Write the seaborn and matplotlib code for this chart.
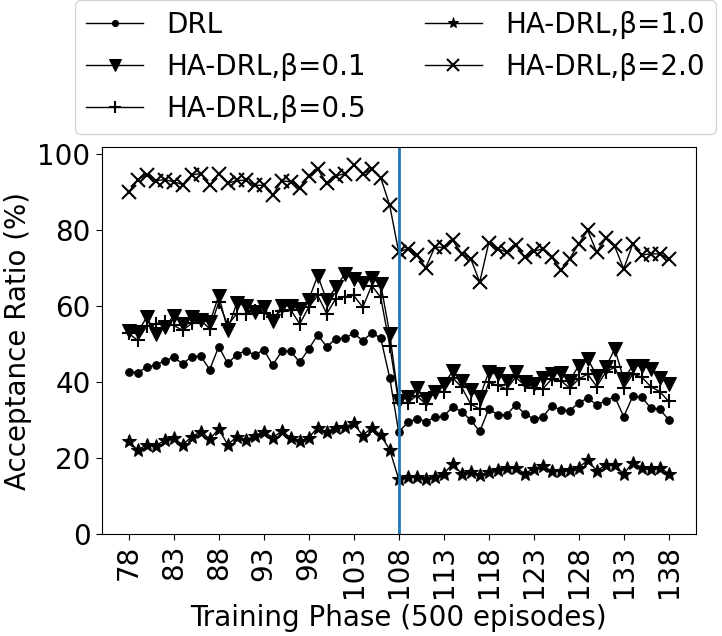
import matplotlib
matplotlib.use("Agg")
import matplotlib.pyplot as plt
import seaborn as sns
import numpy as np

phases = list(range(78, 139))

drl = [42.7, 42.5, 43.9, 44.5, 45.6, 46.5, 44.8, 46.7, 46.8, 43.3, 49.3, 44.9, 47.2, 48.3, 47.1,
       48.5, 44.5, 48.1, 48.1, 45.2, 48.7, 52.4, 49.3, 51.4, 51.6, 52.8, 50.9, 52.9, 51.6, 41.1,
       26.8, 29.4, 30.3, 29.6, 30.7, 31.0, 33.5, 32.2, 30.0, 27.0, 32.9, 31.4, 31.4, 34.0, 31.6,
       30.3, 30.7, 33.8, 32.6, 32.5, 34.5, 35.8, 34.0, 35.1, 36.1, 30.9, 36.2, 36.0, 33.2, 32.8, 30.1]

beta01 = [53.4, 53.1, 57.1, 52.7, 54.5, 57.4, 55.2, 57.1, 56.3, 55.7, 62.7, 53.7, 60.8, 60.1, 58.4,
          59.7, 56.0, 60.1, 60.1, 59.2, 61.7, 68.0, 61.5, 64.9, 68.4, 67.0, 66.0, 67.5, 65.8, 52.7,
          35.0, 36.0, 38.4, 35.5, 37.5, 39.5, 42.8, 40.4, 37.9, 36.0, 42.6, 42.0, 40.4, 42.6, 39.9,
          39.5, 41.1, 42.1, 42.4, 40.4, 44.3, 46.1, 41.7, 43.9, 48.7, 40.8, 44.3, 44.2, 43.5, 41.1, 39.5]

beta05 = [52.8, 51.0, 54.7, 55.3, 55.8, 54.9, 53.6, 55.5, 56.3, 54.0, 61.0, 55.0, 58.0, 58.0, 58.8,
          58.2, 57.1, 58.8, 59.0, 55.3, 59.7, 62.8, 58.0, 61.9, 62.5, 62.8, 59.7, 65.4, 62.3, 49.6,
          34.6, 34.6, 36.4, 34.2, 37.5, 37.5, 41.1, 38.6, 34.2, 32.9, 39.9, 39.1, 38.2, 41.3, 39.1,
          38.4, 38.2, 40.8, 40.4, 38.4, 40.8, 42.1, 38.8, 42.6, 43.9, 38.4, 42.1, 41.3, 38.8, 37.5, 34.9]

beta10 = [24.4, 22.1, 23.5, 23.2, 24.7, 25.2, 23.5, 25.6, 26.9, 25.0, 27.6, 23.5, 25.6, 24.7, 25.9,
          26.9, 25.4, 27.0, 25.4, 24.4, 25.4, 28.0, 26.9, 28.0, 28.2, 29.1, 25.9, 28.0, 26.0, 22.2,
          14.4, 14.9, 15.0, 14.6, 15.1, 15.9, 18.4, 15.9, 16.4, 15.4, 16.4, 16.9, 17.5, 17.5, 15.9,
          17.2, 17.9, 16.6, 16.6, 16.8, 17.5, 19.4, 16.6, 18.2, 18.2, 15.8, 18.8, 17.5, 17.2, 17.5, 15.9]

beta20 = [90.0, 93.3, 94.6, 93.0, 93.3, 92.7, 92.0, 94.5, 94.9, 91.8, 94.9, 92.3, 93.1, 93.1, 91.8,
          91.8, 89.2, 93.0, 92.7, 91.2, 94.2, 96.0, 92.4, 94.2, 94.9, 97.1, 94.9, 96.0, 93.8, 86.5,
          74.2, 75.1, 73.4, 70.1, 75.5, 75.5, 77.3, 73.8, 72.5, 66.3, 76.6, 75.1, 74.2, 76.0, 72.9,
          74.4, 75.1, 72.9, 69.4, 72.5, 76.4, 79.9, 74.2, 77.8, 75.7, 69.8, 76.3, 73.4, 73.8, 73.7, 72.5]

labels = ["DRL", "HA-DRL,β=0.1", "HA-DRL,β=0.5", "HA-DRL,β=1.0", "HA-DRL,β=2.0"]
series = [drl, beta01, beta05, beta10, beta20]
markers = [".", "v", "+", "*", "x"]
msizes = [11, 10, 10, 10, 10]
mews = [0.75, 0.75, 1.5, 0.75, 1.5]

xticks = list(range(78, 139, 5))
switch_phase = 108

plt.rcParams['font.family'] = ['DejaVu Sans']
plt.rcParams['font.size'] = 20

fig = plt.figure(figsize=(7.22, 6.36), dpi=100)
ax = fig.add_axes([0.1409, 0.1604, 0.8227, 0.608])

for vals, lab, mk, ms, mw in zip(series, labels, markers, msizes, mews):
    sns.lineplot(x=phases, y=vals, ax=ax, color="black", marker=mk, markersize=ms,
                 markeredgecolor="black", markerfacecolor="black", markeredgewidth=mw,
                 linewidth=1, label=lab)

ax.axvline(switch_phase, color="#1f77b4", linewidth=2)

ax.set_xlim(75.0, 141.0)
ax.set_ylim(0, 101.8)
ax.set_xticks(xticks)
ax.set_xticklabels([str(t) for t in xticks], rotation=90)
ax.set_yticks([0, 20, 40, 60, 80, 100])
ax.tick_params(labelsize=20, length=4.5)
ax.set_xlabel("Training Phase (500 episodes)", fontsize=20)
ax.set_ylabel("Acceptance Ratio (%)", fontsize=20)

handles, labs = ax.get_legend_handles_labels()
ax.get_legend().remove()
fig.legend(handles, labs, loc="upper left", bbox_to_anchor=(75 / 722, 1.0),
           bbox_transform=fig.transFigure, ncol=2, fontsize=20, borderaxespad=0,
           handlelength=2.05, handletextpad=0.85, columnspacing=2.1, markerscale=0.8,
           frameon=True)

fig.savefig("out.png", dpi=100)
